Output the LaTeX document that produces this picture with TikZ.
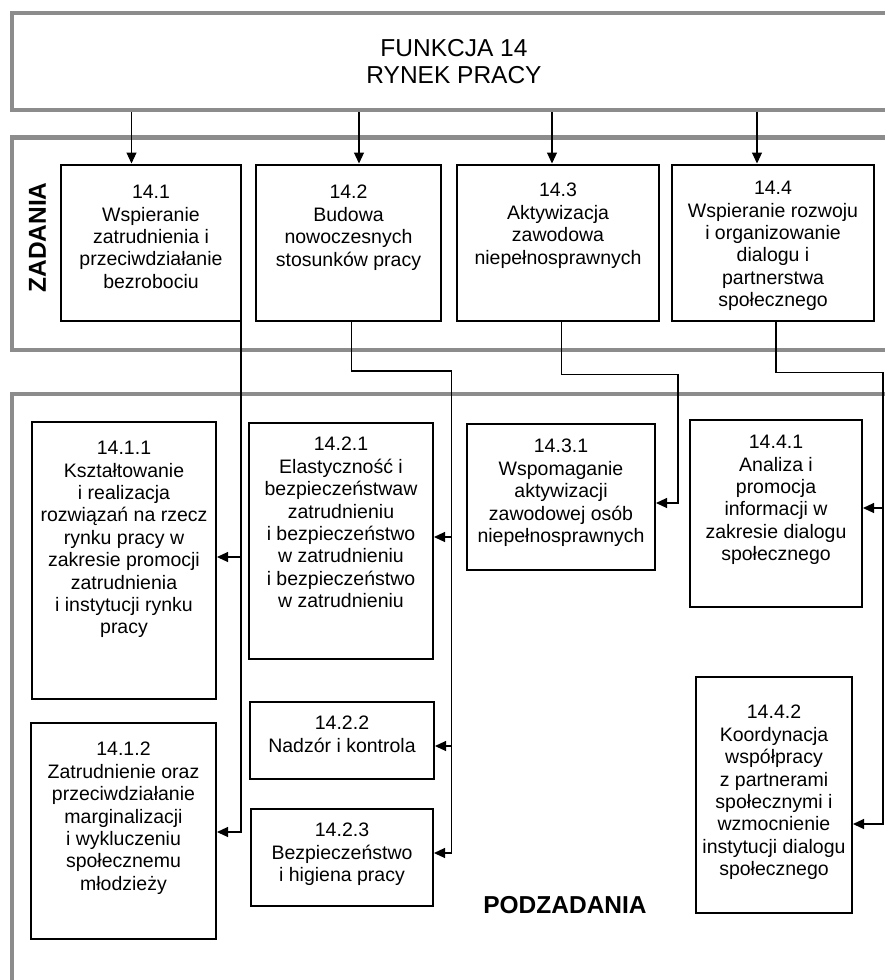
\documentclass[tikz,border=0pt]{standalone}
\usepackage{fontspec}
\setmainfont{Liberation Sans}
\usetikzlibrary{arrows.meta}
\definecolor{bandgray}{RGB}{140,140,140}
\newcommand\tbox[7]{%
  \node[boxst, minimum width={(#4-#2)*1pt}, minimum height={(#5-#3)*1pt}] (#1) at ({(#2+#4)/2},{(#3+#5)/2}) {};
  \node[txt, anchor=north] (#1t) at ({(#2+#4)/2},{#6-7}) {#7};}
\begin{document}
\begin{tikzpicture}[x=1pt,y=-1pt,
  band/.style={draw=bandgray, line width=4.5pt},
  boxst/.style={draw, line width=2pt, inner sep=0pt},
  txt/.style={align=center, inner sep=0pt, font=\fontsize{19.5}{22.4}\selectfont},
  lbl/.style={font=\fontsize{24.5}{27}\selectfont\bfseries, inner sep=0pt},
  conn/.style={line width=1.1pt},
  arr/.style={conn, -{Triangle[length=11pt,width=10pt]}}]
\useasboundingbox[fill=white] (0,0) rectangle (885,980);
\begin{scope}
\clip (0,0) rectangle (885,980);
% bands
\draw[band] (900,13) -- (12,13) -- (12,110) -- (900,110);
\draw[band] (900,137.5) -- (12,137.5) -- (12,350) -- (900,350);
\draw[band] (900,394) -- (12,394) -- (12,990);
% title
\node[font=\fontsize{24.5}{27}\selectfont, align=center, inner sep=0pt] (title) at (454,61.5) {FUNKCJA 14\\RYNEK PRACY};
\node[lbl, rotate=90] (zad) at (37.5,237.5) {ZADANIA};
\node[lbl] (podz) at (565,905) {PODZADANIA};
% task boxes
\tbox{t1}{61}{164.5}{241}{321}{192}{14.1\\Wspieranie\\zatrudnienia i\\przeciwdziałanie\\bezrobociu}
\tbox{t2}{256}{164.5}{441}{321}{192}{14.2\\Budowa\\nowoczesnych\\stosunków pracy}
\tbox{t3}{457}{164.5}{659}{321}{190}{14.3\\Aktywizacja\\zawodowa\\niepełnosprawnych}
\tbox{t4}{672}{164.5}{874}{321}{188}{14.4\\Wspieranie rozwoju\\i organizowanie\\dialogu i\\partnerstwa\\społecznego}
% subtasks
\tbox{s11}{32}{422}{216}{699}{448}{14.1.1\\Kształtowanie\\i realizacja\\rozwiązań na rzecz\\rynku pracy w\\zakresie promocji\\zatrudnienia\\i instytucji rynku\\pracy}
\tbox{s12}{31}{723}{216}{939}{749}{14.1.2\\Zatrudnienie oraz\\przeciwdziałanie\\marginalizacji\\i wykluczeniu\\społecznemu\\młodzieży}
\tbox{s21}{249}{423}{433}{659}{444}{14.2.1\\Elastyczność i\\bezpieczeństwaw\\zatrudnieniu\\i bezpieczeństwo\\w zatrudnieniu\\i bezpieczeństwo\\w zatrudnieniu}
\tbox{s22}{250}{702}{434}{779}{723}{14.2.2\\Nadzór i kontrola}
\tbox{s23}{251}{809}{433}{906}{830}{14.2.3\\Bezpieczeństwo\\i higiena pracy}
\tbox{s31}{467}{424}{655}{570}{446}{14.3.1\\Wspomaganie\\aktywizacji\\zawodowej osób\\niepełnosprawnych}
\tbox{s41}{690}{420}{862}{607}{442}{14.4.1\\Analiza i\\promocja\\informacji w\\zakresie dialogu\\społecznego}
\tbox{s42}{696}{677}{852}{913}{712}{14.4.2\\Koordynacja\\współpracy\\z partnerami\\społecznymi i\\wzmocnienie\\instytucji dialogu\\społecznego}
% title arrows
\coordinate (a1) at (131.5,112); \draw[arr] (a1) -- (a1 |- t1.north);
\coordinate (a2) at (359,112);   \draw[arr] (a2) -- (a2 |- t2.north);
\coordinate (a3) at (552,112);   \draw[arr] (a3) -- (a3 |- t3.north);
\coordinate (a4) at (757,112);   \draw[arr] (a4) -- (a4 |- t4.north);
% 14.1
\coordinate (c0) at (241,322); \coordinate (c1) at (241,557); \coordinate (c2) at (241,832);
\draw[arr] (c0) -- (c2) -- (c2 -| s12.east);
\draw[arr] (c1) -- (c1 -| s11.east);
% 14.2
\coordinate (d0) at (351.5,322); \coordinate (d1) at (451.5,371);
\coordinate (d2) at (451.5,853); \coordinate (d3) at (451.5,537); \coordinate (d4) at (451.5,746);
\draw[arr] (d0) |- (d1) -- (d2) -- (d2 -| s23.east);
\draw[arr] (d3) -- (d3 -| s21.east);
\draw[arr] (d4) -- (d4 -| s22.east);
% 14.3
\coordinate (e0) at (561.5,322); \coordinate (e1) at (678,374.5); \coordinate (e2) at (678,503);
\draw[arr] (e0) |- (e1) -- (e2) -- (e2 -| s31.east);
% 14.4
\coordinate (f0) at (776,322); \coordinate (f1) at (883,372.5);
\coordinate (f2) at (883,824); \coordinate (f3) at (883,508);
\draw[arr] (f0) |- (f1) -- (f2) -- (f2 -| s42.east);
\draw[arr] (f3) -- (f3 -| s41.east);
\end{scope}
\end{tikzpicture}
\end{document}
